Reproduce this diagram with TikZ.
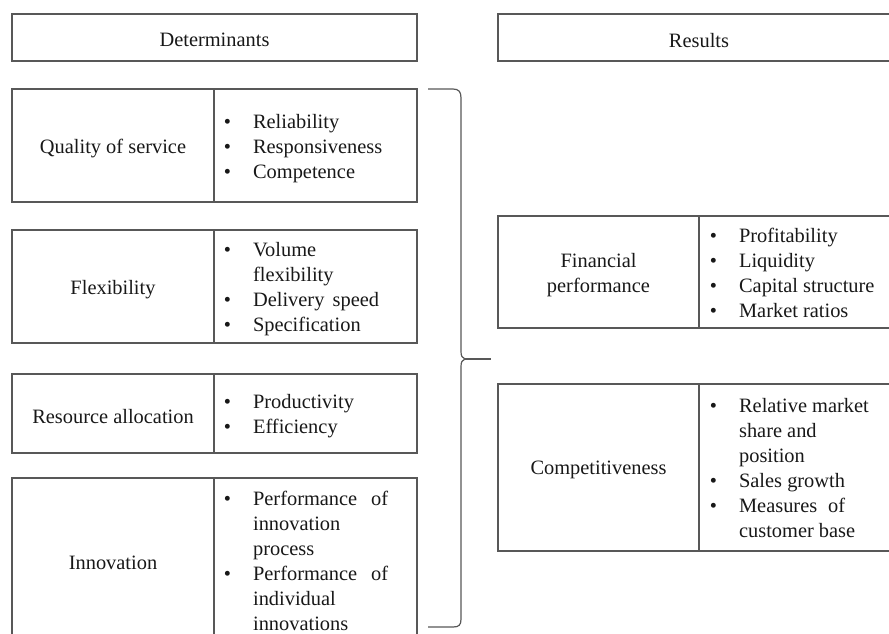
\documentclass[tikz,border=0pt]{standalone}
\usepackage{fontspec}
\setmainfont{Liberation Serif}
\usepackage{array}
\definecolor{linec}{RGB}{88,88,88}
\definecolor{textc}{RGB}{24,24,24}
% bullet list: fixed bullet column, one row per printed line
\newcommand{\blist}[1]{%
  \renewcommand{\arraystretch}{1}%
  \begin{tabular}{@{}p{22pt}@{}l@{}}#1\end{tabular}}
\newcommand{\bi}{\textbullet &}
\newcommand{\cont}{&}
\begin{document}
\begin{tikzpicture}[x=0.75pt,y=-0.75pt,
  every node/.style={text=textc, font=\fontsize{15.3pt}{18.75pt}\selectfont},
  cell/.style={draw=linec, line width=0.9pt, inner sep=0pt},
  lbl/.style={inner sep=0pt, align=center, yshift=-2pt},
  lst/.style={anchor=west, inner sep=0pt, yshift=-2pt},
  bracepath/.style={draw=linec, line width=0.9pt}]
\useasboundingbox (0,0) rectangle (889,633);
\clip (0,0) rectangle (889,633);

% column headers
\node[cell, minimum width=303.75pt, minimum height=35.25pt] (det) at (214.5,37.5) {};
\node[lbl] (detT) at (det) {Determinants};
\node[cell, minimum width=301.5pt, minimum height=35.25pt] (res) at (699,37.5) {};
\node[lbl] (resT) at (res) {Results};

% determinants: label cell + list cell
\node[cell, minimum width=151.5pt, minimum height=84.75pt] (qualL) at (113,145.5) {};
\node[lbl] (qualN) at (qualL) {Quality of service};
\node[cell, minimum width=152.25pt, minimum height=84.75pt] (qualR) at (315.5,145.5) {};
\node[lst] (qualT) at (223.5,145.5) {\blist{\bi Reliability\\ \bi Responsiveness\\ \bi Competence}};

\node[cell, minimum width=151.5pt, minimum height=84.75pt] (flexL) at (113,286.5) {};
\node[lbl] (flexN) at (flexL) {Flexibility};
\node[cell, minimum width=152.25pt, minimum height=84.75pt] (flexR) at (315.5,286.5) {};
\node[lst] (flexT) at (223.5,286.5) {\blist{\bi Volume\\ \cont flexibility\\ \bi \makebox[94.5pt][s]{Delivery speed}\\ \bi Specification}};

\node[cell, minimum width=151.5pt, minimum height=59.25pt] (resoL) at (113,413.5) {};
\node[lbl] (resoN) at (resoL) {Resource allocation};
\node[cell, minimum width=152.25pt, minimum height=59.25pt] (resoR) at (315.5,413.5) {};
\node[lst] (resoT) at (223.5,413.5) {\blist{\bi Productivity\\ \bi Efficiency}};

\node[cell, minimum width=151.5pt, minimum height=123pt] (innoL) at (113,560) {};
\node[lbl] (innoN) at (innoL) {Innovation};
\node[cell, minimum width=152.25pt, minimum height=123pt] (innoR) at (315.5,560) {};
\node[lst] (innoT) at (223.5,560) {\blist{\bi \makebox[101.25pt][s]{Performance of}\\ \cont innovation\\ \cont process\\ \bi \makebox[101.25pt][s]{Performance of}\\ \cont individual\\ \cont innovations}};

% results: label cell + list cell
\node[cell, minimum width=150.75pt, minimum height=84pt] (finL) at (598.5,272) {};
\node[lbl] (finN) at (finL) {Financial\\performance};
\node[cell, minimum width=150.75pt, minimum height=84pt] (finR) at (799.5,272) {};
\node[lst] (finT) at (709.5,272) {\blist{\bi Profitability\\ \bi Liquidity\\ \bi Capital structure\\ \bi Market ratios}};

\node[cell, minimum width=150.75pt, minimum height=125.25pt] (compL) at (598.5,467.5) {};
\node[lbl] (compN) at (compL) {Competitiveness};
\node[cell, minimum width=150.75pt, minimum height=125.25pt] (compR) at (799.5,467.5) {};
\node[lst] (compT) at (709.5,467.5) {\blist{\bi Relative market\\ \cont share and\\ \cont position\\ \bi Sales growth\\ \bi \makebox[79.5pt][s]{Measures of}\\ \cont customer base}};

% brace gathering the determinants
\coordinate (tip) at (465,359);
\coordinate (tipEnd) at (491,359);
\draw[bracepath] (428,89) -- (453,89) .. controls (459,89) and (461,92) .. (461,98)
  -- (461,351) .. controls (461,356) and (462,358) .. (tip)
  .. controls (462,360) and (461,362) .. (461,367)
  -- (461,619) .. controls (461,625) and (459,627) .. (453,627) -- (428,627);
\draw[bracepath, line width=1.2pt] (tip) -- (tipEnd);
\end{tikzpicture}
\end{document}
